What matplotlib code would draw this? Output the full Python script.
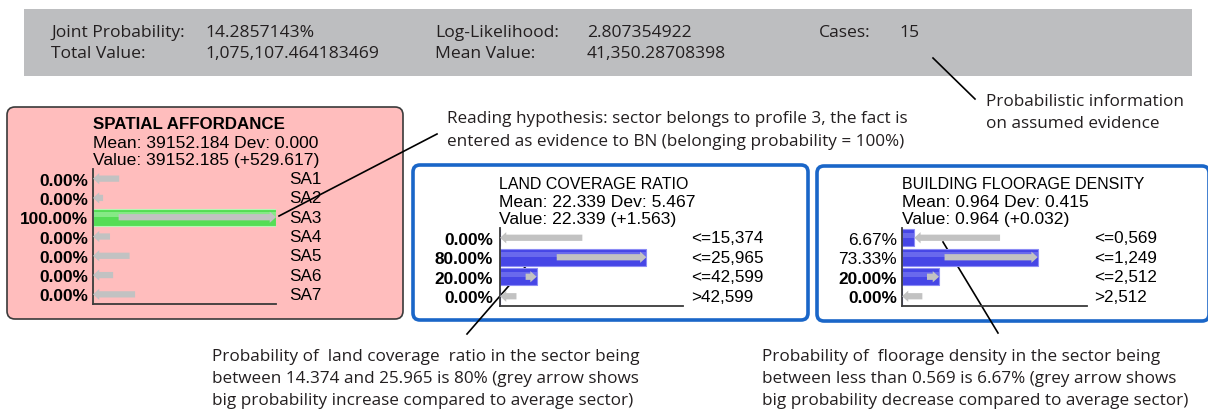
import numpy as np
import matplotlib
matplotlib.use("Agg")
import matplotlib.pyplot as plt
from matplotlib.patches import FancyBboxPatch, Rectangle

# ---- data ----
header_labels = [["Joint Probability:", "Log-Likelihood:", "Cases:"],
                 ["Total Value:", "Mean Value:", ""]]
header_values = [["14.2857143%", "2.807354922", "15"],
                 ["1,075,107.464183469", "41,350.28708398", ""]]

sa_title = "SPATIAL AFFORDANCE"
sa_stats = ["Mean: 39152.184 Dev: 0.000", "Value: 39152.185 (+529.617)"]
sa_states = ["SA1", "SA2", "SA3", "SA4", "SA5", "SA6", "SA7"]
sa_probs = [0.0, 0.0, 100.0, 0.0, 0.0, 0.0, 0.0]
sa_prior = [14.3, 5.5, 14.0, 9.3, 20.0, 11.0, 23.0]
sa_bold = [True] * 7

lc_title = "LAND COVERAGE RATIO"
lc_stats = ["Mean: 22.339 Dev: 5.467", "Value: 22.339 (+1.563)"]
lc_states = ["<=15,374", "<=25,965", "<=42,599", ">42,599"]
lc_probs = [0.0, 80.0, 20.0, 0.0]
lc_prior = [45.0, 31.0, 14.0, 9.0]
lc_bold = [True, True, True, True]

fd_title = "BUILDING FLOORAGE DENSITY"
fd_stats = ["Mean: 0.964 Dev: 0.415", "Value: 0.964 (+0.032)"]
fd_states = ["<=0,569", "<=1,249", "<=2,512", ">2,512"]
fd_probs = [6.67, 73.33, 20.0, 0.0]
fd_prior = [53.0, 23.0, 13.5, 11.0]
fd_bold = [False, False, True, True]

note_evidence = ["Reading hypothesis: sector belongs to profile 3, the fact is",
                 "entered as evidence to BN (belonging probability = 100%)"]
note_header = ["Probabilistic information", "on assumed evidence"]
note_land = ["Probability of  land coverage  ratio in the sector being",
             "between 14.374 and 25.965 is 80% (grey arrow shows",
             "big probability increase compared to average sector)"]
note_floor = ["Probability of  floorage density in the sector being",
              "between less than 0.569 is 6.67% (grey arrow shows",
              "big probability decrease compared to average sector)"]

W, H = 1208, 414
fig = plt.figure(figsize=(W / 100, H / 100), dpi=100)
ax = fig.add_axes([0, 0, 1, 1])
ax.set_xlim(0, W)
ax.set_ylim(H, 0)
ax.axis("off")

note_font = "Open Sans"
panel_font = "Liberation Sans"
ink = "#231f20"

# header strip
ax.add_patch(Rectangle((24, 10), 1168, 67, facecolor="#bdbec0", edgecolor="none"))
col_x = [(51, 205), (435, 587), (819, 899)]
for r, yy in enumerate([33, 54]):
    for c, (xl, xv) in enumerate(col_x):
        ax.text(xl, yy, header_labels[r][c], family=note_font, fontsize=12.6,
                color=ink, va="center")
        ax.text(xv, yy, header_values[r][c], family=note_font, fontsize=12.6,
                color=ink, va="center")

# panel frames
ax.add_patch(FancyBboxPatch((7, 108), 396, 212, boxstyle="round,pad=0,rounding_size=8",
                            facecolor="#ffbdbd", edgecolor="#3a3a3a", lw=1.2))
ax.add_patch(FancyBboxPatch((413, 166), 395, 155, boxstyle="round,pad=0,rounding_size=7",
                            facecolor="white", edgecolor="#1a66c8", lw=2.6))
ax.add_patch(FancyBboxPatch((817, 167), 392, 155, boxstyle="round,pad=0,rounding_size=7",
                            facecolor="white", edgecolor="#1a66c8", lw=2.6))

# panel headings
ax.text(93, 125, sa_title, family=panel_font, fontsize=12.2, weight="bold", va="center")
ax.text(93, 144, sa_stats[0], family=panel_font, fontsize=12.6, va="center")
ax.text(93, 161, sa_stats[1], family=panel_font, fontsize=12.6, va="center")
for x0, title, stats in [(499, lc_title, lc_stats), (902, fd_title, fd_stats)]:
    ax.text(x0, 185, title, family=panel_font, fontsize=11.5, va="center")
    ax.text(x0, 203, stats[0], family=panel_font, fontsize=12.6, va="center")
    ax.text(x0, 220, stats[1], family=panel_font, fontsize=12.6, va="center")


def monitor(box, probs, prior, states, bold, color, light, gap_l, gap_r):
    l, t, w, h = box
    a = fig.add_axes([l / W, 1 - (t + h) / H, w / W, h / H])
    n = len(probs)
    y = np.arange(n)
    a.barh(y, probs, height=0.86, color=color, edgecolor=light, lw=0.8, zorder=1)
    a.barh(y - 0.12, probs, height=0.25, color=light, lw=0, alpha=0.5, zorder=1.5)
    a.set_xlim(0, 100)
    a.set_ylim(n - 0.5, -0.5)
    a.patch.set_alpha(0)
    for i in range(n):
        a.annotate("", xy=(probs[i], i), xytext=(prior[i], i),
                   arrowprops=dict(arrowstyle="simple,head_length=0.5,head_width=0.9,tail_width=0.5",
                                   mutation_scale=9, color="#c2c2c2", lw=0,
                                   shrinkA=0, shrinkB=0), zorder=3)
    a.set_yticks(y, labels=["%.2f%%" % p for p in probs])
    a.tick_params(axis="y", length=0, pad=gap_l * 0.72, labelsize=12.4)
    for lab, b in zip(a.get_yticklabels(), bold):
        lab.set_family(panel_font)
        lab.set_weight("bold" if b else "normal")
    a.set_xticks([])
    for i, s in enumerate(states):
        a.annotate(s, xy=(1, i), xycoords=("axes fraction", "data"),
                   xytext=(gap_r * 0.72, 0), textcoords="offset points",
                   va="center", family=panel_font, fontsize=12.3)
    for sp in ["top", "right"]:
        a.spines[sp].set_visible(False)
    for sp in ["left", "bottom"]:
        a.spines[sp].set_color("#3a3a3a")
        a.spines[sp].set_linewidth(1.3)
    return a


monitor((93, 170, 183, 135), sa_probs, sa_prior, sa_states, sa_bold,
        "#55dd55", "#b8f5b8", 5, 13)
monitor((500, 229, 183, 78), lc_probs, lc_prior, lc_states, lc_bold,
        "#4646e6", "#8c8cf5", 7, 8)
monitor((902, 229, 185, 78), fd_probs, fd_prior, fd_states, fd_bold,
        "#4646e6", "#8c8cf5", 5, 7)

# leader lines
for (x1, y1), (x2, y2) in [((437, 135), (279, 217)), ((933, 59), (975, 100)),
                           ((533, 259), (467, 335)), ((943, 243), (998, 334))]:
    ax.plot([x1, x2], [y1, y2], color="black", lw=1.2, zorder=5)

# notes
for i, s in enumerate(note_evidence):
    ax.text(447, 119 + 23 * i, s, family=note_font, fontsize=12.3, color=ink, va="center")
for i, s in enumerate(note_header):
    ax.text(986, 102 + 22 * i, s, family=note_font, fontsize=12.3, color=ink, va="center")
for i, s in enumerate(note_land):
    ax.text(212, 357 + 22 * i, s, family=note_font, fontsize=12.3, color=ink, va="center")
for i, s in enumerate(note_floor):
    ax.text(762, 357 + 22 * i, s, family=note_font, fontsize=12.3, color=ink, va="center")

fig.savefig("out.png", dpi=100)
